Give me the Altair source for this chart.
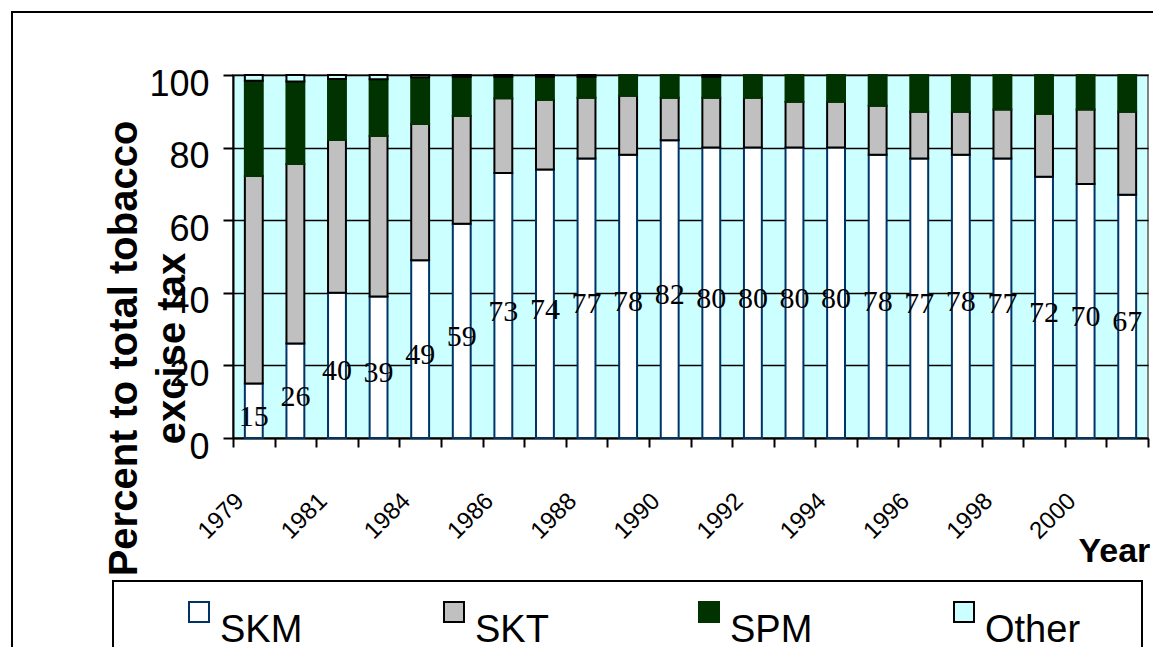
import altair as alt
import pandas as pd

# Share of total tobacco excise tax by company, 1979-2001 (percent)
years = ["1979", "1980", "1981", "1982", "1984", "1985", "1986", "1987", "1988",
         "1989", "1990", "1991", "1992", "1993", "1994", "1995", "1996", "1997",
         "1998", "1999", "2000", "2001"]
skm = [15, 26, 40, 39, 49, 59, 73, 74, 77, 78, 82, 80, 80, 80, 80, 78, 77, 78,
       77, 72, 70, 67]
skt = [57.2, 49.5, 42.1, 44.2, 37.5, 29.7, 20.6, 19.2, 16.7, 16.3, 11.7, 13.7,
       13.7, 12.6, 12.6, 13.5, 12.9, 11.9, 13.5, 17.3, 20.5, 22.9]
spm = [26.2, 22.7, 16.8, 15.6, 12.9, 10.8, 5.9, 6.3, 5.8, 5.7, 6.3, 5.8, 6.3,
       7.4, 7.4, 8.5, 10.1, 10.1, 9.5, 10.7, 9.5, 10.1]
other = [1.6, 1.8, 1.1, 1.2, 0.6, 0.5, 0.5, 0.5, 0.5, 0.0, 0.0, 0.5, 0.0, 0.0,
         0.0, 0.0, 0.0, 0.0, 0.0, 0.0, 0.0, 0.0]
labeled_years = ["1979", "1981", "1984", "1986", "1988", "1990", "1992", "1994",
                 "1996", "1998", "2000"]

series = ["SKM", "SKT", "SPM", "Other"]
fills = ["#FFFFFF", "#C0C0C0", "#003300", "#CCFFFF"]
strokes = ["#003366", "#000000", "#003300", "#000000"]

rows = []
for i, yr in enumerate(years):
    for rank, (name, vals) in enumerate(zip(series, [skm, skt, spm, other])):
        if vals[i] > 0:
            rows.append({"year": yr, "series": name, "value": vals[i], "rank": rank})
df = pd.DataFrame(rows)
labels = pd.DataFrame({"year": years, "skm": skm, "mid": [v / 2 for v in skm]})

legend = alt.Legend(
    orient="none", legendX=-53, legendY=518, direction="horizontal", columns=4,
    title=None, symbolType="square", symbolSize=400,
    symbolStrokeWidth=2, labelFont="Liberation Sans", labelFontSize=38,
    labelColor="black", labelBaseline="top", labelOffset=2,
    columnPadding=119, gridAlign="all",
)

x_enc = alt.X(
    "year:N", sort=years,
    scale=alt.Scale(paddingInner=0, paddingOuter=0),
    axis=alt.Axis(
        tickBand="extent", labelAngle=-45, labelAlign="right",
        labelBaseline="middle", labelFont="Liberation Sans", labelFontSize=24,
        labelColor="black", labelPadding=50, labelOffset=-14, labelOverlap=False,
        labelExpr="indexof(" + str(labeled_years) + ", datum.value) >= 0 ? datum.value : ''",
        tickSize=9, tickWidth=2, tickColor="black", domainColor="black",
        domainWidth=2, grid=False,
        title="Year", titleFont="Liberation Sans", titleFontSize=34,
        titleFontWeight="bold", titleColor="black", titleAlign="left",
        titleBaseline="alphabetic", titleX=845, titleY=123,
    ),
)

bars = alt.Chart(df).mark_bar(strokeWidth=2, width=alt.RelativeBandSize(0.43)).encode(
    x=x_enc,
    y=alt.Y(
        "value:Q", stack="zero",
        scale=alt.Scale(domain=[0, 100], nice=False),
        axis=alt.Axis(
            values=[0, 20, 40, 60, 80, 100], grid=True, gridColor="black",
            gridWidth=1.5, domainColor="black", domainWidth=2,
            tickColor="black", tickWidth=2, tickSize=10,
            labelFont="Liberation Sans", labelFontSize=36, labelColor="black",
            labelPadding=14, labelOffset=9,
            title=["Percent to total tobacco", "excise tax"],
            titleFont="Liberation Sans", titleFontSize=40, titleFontWeight="bold",
            titleColor="black", titleLineHeight=48, titleAngle=270,
            titleAlign="center", titleBaseline="middle", titleX=-109, titleY=273,
        ),
    ),
    fill=alt.Fill("series:N", scale=alt.Scale(domain=series, range=fills), legend=legend),
    stroke=alt.Stroke("series:N", scale=alt.Scale(domain=series, range=strokes), legend=legend),
    order=alt.Order("rank:Q"),
)

text = alt.Chart(labels).mark_text(
    font="Liberation Serif", fontSize=30, baseline="middle", dy=6, color="black"
).encode(
    x=alt.X("year:N", sort=years),
    y=alt.Y("mid:Q"),
    text=alt.Text("skm:Q"),
)

# Outer chart frame and legend box
box = pd.DataFrame({"k": [0]})
frame = alt.Chart(box).mark_rect(fillOpacity=0, stroke="black", strokeWidth=2).encode(
    x=alt.value(-221), x2=alt.value(1000), y=alt.value(-63), y2=alt.value(700)
)
legend_box = alt.Chart(box).mark_rect(fillOpacity=0, stroke="black", strokeWidth=2).encode(
    x=alt.value(-120), x2=alt.value(909), y=alt.value(506), y2=alt.value(700)
)

chart = alt.layer(frame, legend_box, bars, text).properties(
    width=915, height=363,
    padding={"left": 233, "top": 75, "right": 5, "bottom": 209},
    autosize=alt.AutoSizeParams(type="none"),
    background="white",
).configure_view(
    fill="#CCFFFF", stroke="#808080", strokeWidth=2
)

chart.save("out.html", embed_options={"renderer": "svg", "actions": False})
